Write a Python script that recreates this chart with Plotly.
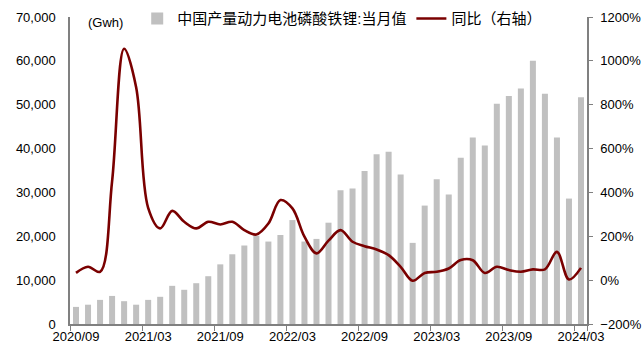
import plotly.graph_objects as go

months = []
y, m = 2020, 9
for _ in range(43):
    months.append(f"{y}/{m:02d}")
    m += 1
    if m > 12:
        m = 1
        y += 1

output_gwh = [3900, 4400, 5500, 6400, 5200, 4400, 5500, 6200, 8700, 7800,
              9300, 10900, 13600, 15900, 17900, 20100, 18800, 20300, 23700, 18800,
              19400, 23100, 30500, 30900, 34900, 38700, 39300, 34100, 18500, 27000,
              33000, 29500, 37900, 42500, 40700, 50200, 52000, 53700, 60000, 52500,
              42500, 28600, 51700]

yoy_pct = [33, 61, 38, 450, 1055, 880, 330, 236, 316, 266,
           236, 266, 254, 266, 228, 208, 258, 365, 327, 198,
           122, 180, 228, 175, 155, 140, 114, 61, -3, 33,
           38, 53, 92, 91, 33, 61, 46, 38, 49, 49,
           129, 3, 56]

tick_labels = [months[i] for i in range(0, 43, 6)]

bar_name = "中国产量动力电池磷酸铁锂:当月值"
line_name = "同比（右轴）"

fig = go.Figure()
fig.add_trace(go.Bar(x=months, y=output_gwh, name=bar_name,
                     marker=dict(color="#C0C0C0", line=dict(width=0)),
                     yaxis="y"))
fig.add_trace(go.Scatter(x=months, y=yoy_pct, name=line_name, mode="lines",
                         line=dict(color="#7A0000", width=2.6, shape="spline", smoothing=1.0),
                         yaxis="y2"))

font_family = "Liberation Sans, Arial, Noto Sans CJK SC, sans-serif"

fig.update_layout(
    width=643, height=352,
    margin=dict(l=70, r=56, t=17, b=28, autoexpand=False),
    paper_bgcolor="white", plot_bgcolor="white",
    font=dict(family=font_family, size=13, color="#000000"),
    bargap=0.5,
    showlegend=True,
    legend=dict(orientation="h", x=0.13, y=1.048, xanchor="left", yanchor="top",
                bgcolor="rgba(0,0,0,0)", font=dict(size=15), itemwidth=30,
                traceorder="normal"),
    xaxis=dict(type="category", tickmode="array", tickvals=tick_labels, ticktext=tick_labels,
               tickson="boundaries", ticks="outside", ticklen=5, tickcolor="#808080",
               showline=True, linecolor="#808080", linewidth=1.5,
               showgrid=False, zeroline=False, tickangle=0, automargin=False,
               tickfont=dict(size=13)),
    yaxis=dict(range=[0, 70000], dtick=10000, tickformat=",d",
               showline=True, linecolor="#808080", linewidth=1.5,
               ticks="", showgrid=False, zeroline=False, automargin=False,
               ticklabelstandoff=10, tickfont=dict(size=13)),
    yaxis2=dict(range=[-200, 1200], dtick=200, ticksuffix="%", overlaying="y", side="right",
                showline=True, linecolor="#808080", linewidth=1.5,
                ticks="outside", ticklen=4, tickcolor="#808080", automargin=False,
                ticklabelstandoff=5,
                showgrid=False, zeroline=False, tickfont=dict(size=13)),
    annotations=[dict(text="(Gwh)", xref="paper", yref="paper", x=0.03, y=1.0,
                      xanchor="left", yanchor="top", yshift=4, showarrow=False,
                      font=dict(size=13))],
)

fig.write_html("out.html")
